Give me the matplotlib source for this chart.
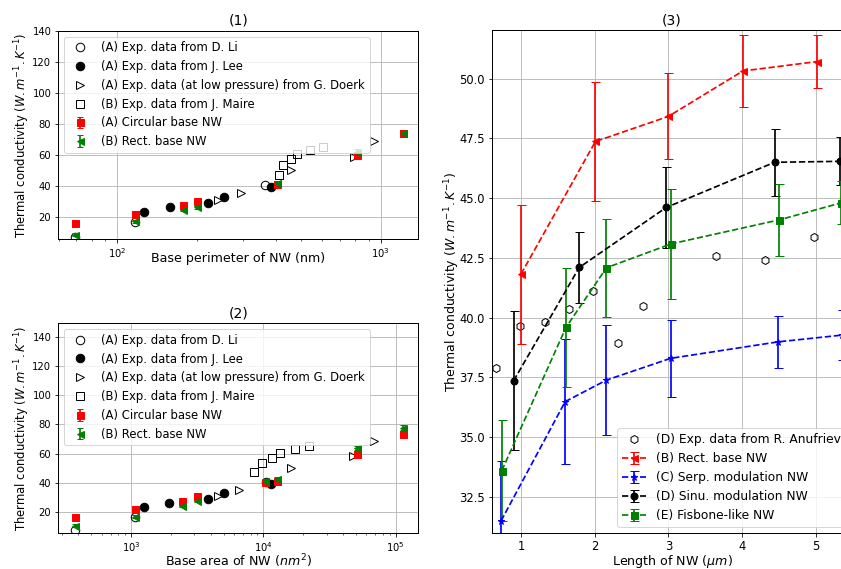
import matplotlib
matplotlib.use("Agg")
import matplotlib.pyplot as plt

# ---- panel (1): base perimeter (nm) ----
li_perim = [69, 117, 364]
li_k = [7.2, 16.6, 40.2]
lee_perim = [126, 158, 221, 254, 382]
lee_k = [23, 26, 29, 33, 39]
doerk_perim = [242, 294, 457, 792, 944]
doerk_k = [30.6, 35.0, 50.0, 58.4, 68.7]
maire_perim = [412, 427, 456, 479, 540, 602]
maire_k = [47.0, 53.2, 57.2, 60.5, 63.2, 65.2]
circ_perim = [69, 117, 177, 201, 403, 811, 1219]
circ_k1 = [15.7, 21.5, 27.3, 30.3, 41.1, 59.6, 73.8]
circ_err1 = [1.0, 1.0, 1.0, 1.0, 1.0, 1.2, 1.5]
rect_perim = [69, 117, 177, 201, 403, 811, 1219]
rect_k1 = [8.4, 17.0, 24.5, 26.2, 42.0, 61.9, 74.2]
rect_err1 = [1.0, 1.0, 1.0, 1.0, 1.2, 1.5, 1.5]

# ---- panel (2): base area (nm^2) ----
li_area = [380, 1072, 10550]
lee_area = [1254, 1950, 3820, 5050, 11380]
doerk_area = [4570, 6590, 16180, 47400, 67900]
maire_area = [8550, 9730, 11570, 13360, 17450, 22280]
circ_area = [380, 1072, 2443, 3155, 10310, 12620, 50800, 114300]
circ_k2 = [16.2, 21.6, 27.6, 30.6, 40.4, 41.1, 59.9, 73.7]
circ_err2 = [1.0, 1.0, 1.0, 1.0, 1.0, 1.0, 1.2, 1.5]
rect_area = [380, 1072, 2443, 3155, 10310, 12620, 50800, 114300]
rect_k2 = [10.2, 16.4, 23.9, 27.6, 41.1, 42.5, 63.6, 77.8]
rect_err2 = [1.0, 1.0, 1.0, 1.0, 1.2, 1.2, 1.5, 1.8]

# ---- panel (3): length of NW (um) ----
anuf_len = [0.66, 0.99, 1.32, 1.65, 1.98, 2.32, 2.65, 3.64, 4.31, 4.98]
anuf_k = [37.9, 39.66, 39.83, 40.37, 41.12, 38.93, 40.47, 42.57, 42.41, 43.38]
rectL = [1.0, 2.01, 3.0, 4.01, 5.01]
rectL_k = [41.82, 47.37, 48.42, 50.32, 50.71]
rectL_err = [2.9, 2.5, 1.8, 1.5, 1.1]
serpL = [0.73, 1.6, 2.16, 3.03, 4.49, 5.35]
serpL_k = [31.5, 36.49, 37.39, 38.3, 38.99, 39.27]
serpL_err = [2.5, 2.6, 2.3, 1.6, 1.1, 1.05]
sinuL = [0.9, 1.79, 2.97, 4.44, 5.33]
sinuL_k = [37.36, 42.1, 44.61, 46.5, 46.54]
sinuL_err = [2.9, 1.5, 1.7, 1.4, 1.0]
fishL = [0.74, 1.61, 2.16, 3.04, 4.5, 5.34]
fishL_k = [33.6, 39.59, 42.09, 43.09, 44.09, 44.8]
fishL_err = [2.1, 2.5, 2.05, 2.3, 1.5, 0.9]

ylab = "Thermal conductivity ($W.m^{-1}.K^{-1}$)"

plt.rcParams["font.size"] = 11.6
plt.rcParams["xtick.labelsize"] = 10
plt.rcParams["ytick.labelsize"] = 10
plt.rcParams["axes.titlesize"] = 14
plt.rcParams["lines.linewidth"] = 1.7
plt.rcParams["axes.linewidth"] = 1.0

fig = plt.figure(figsize=(841 / 72, 569 / 72), dpi=72)
ax1 = fig.add_axes([0.0693, 0.5794, 0.4281, 0.3666])
ax2 = fig.add_axes([0.0693, 0.0627, 0.4281, 0.3691])
ax3 = fig.add_axes([0.585, 0.0627, 0.4281, 0.884])


def size_panel(ax, xs, title, xlabel, pad):
    ax.plot(xs[0], li_k, "o", mfc="none", mec="black", ms=8.5, label="(A) Exp. data from D. Li")
    ax.plot(xs[1], lee_k, "o", color="black", ms=8.5, label="(A) Exp. data from J. Lee")
    ax.plot(xs[2], doerk_k, ">", mfc="none", mec="black", ms=8.5,
            label="(A) Exp. data (at low pressure) from G. Doerk")
    ax.plot(xs[3], maire_k, "s", mfc="none", mec="black", ms=8.5, label="(B) Exp. data from J. Maire")
    ax.errorbar(xs[4], xs[5], yerr=xs[6], fmt="s", color="red", ms=7, capsize=3,
                label="(A) Circular base NW")
    ax.errorbar(xs[7], xs[8], yerr=xs[9], fmt="<", color="green", ms=7, capsize=3,
                label="(B) Rect. base NW")
    ax.set_xscale("log")
    ax.grid(True)
    ax.set_title(title)
    ax.set_xlabel(xlabel, fontsize=12.6, labelpad=pad)
    ax.set_ylabel(ylab, labelpad=0)
    ax.set_yticks([20, 40, 60, 80, 100, 120, 140])
    ax.legend(loc="upper left")


size_panel(ax1, [li_perim, lee_perim, doerk_perim, maire_perim,
                 circ_perim, circ_k1, circ_err1, rect_perim, rect_k1, rect_err1],
           "(1)", "Base perimeter of NW (nm)", -8)
ax1.set_xlim(59.7, 1389)
ax1.set_ylim(5.4, 140)

size_panel(ax2, [li_area, lee_area, doerk_area, maire_area,
                 circ_area, circ_k2, circ_err2, rect_area, rect_k2, rect_err2],
           "(2)", "Base area of NW ($nm^2$)", -2)
ax2.set_xlim(282, 148000)
ax2.set_ylim(5.1, 149.6)

# panel (3)
ax3.plot(anuf_len, anuf_k, "h", mfc="none", mec="black", ms=8,
         label="(D) Exp. data from R. Anufriev")
ax3.errorbar(rectL, rectL_k, yerr=rectL_err, fmt="--<", color="red", capsize=4.5, ms=7,
             label="(B) Rect. base NW")
ax3.errorbar(serpL, serpL_k, yerr=serpL_err, fmt="--*", color="blue", capsize=4.5, ms=7,
             label="(C) Serp. modulation NW")
ax3.errorbar(sinuL, sinuL_k, yerr=sinuL_err, fmt="--o", color="black", capsize=4.5, ms=7,
             label="(D) Sinu. modulation NW")
ax3.errorbar(fishL, fishL_k, yerr=fishL_err, fmt="--s", color="green", capsize=4.5, ms=7,
             label="(E) Fisbone-like NW")
ax3.set_xlim(0.607, 5.49)
ax3.set_ylim(30.98, 52.02)
ax3.set_yticks([32.5, 35.0, 37.5, 40.0, 42.5, 45.0, 47.5, 50.0])
ax3.tick_params(labelsize=11.5)
ax3.grid(True)
ax3.set_title("(3)")
ax3.set_xlabel("Length of NW ($\\mu m$)", fontsize=12.6, labelpad=0)
ax3.set_ylabel(ylab, fontsize=12.5, labelpad=-2.5)
ax3.legend(loc="lower right", fontsize=12.2)

fig.savefig("out.png", dpi=72)
